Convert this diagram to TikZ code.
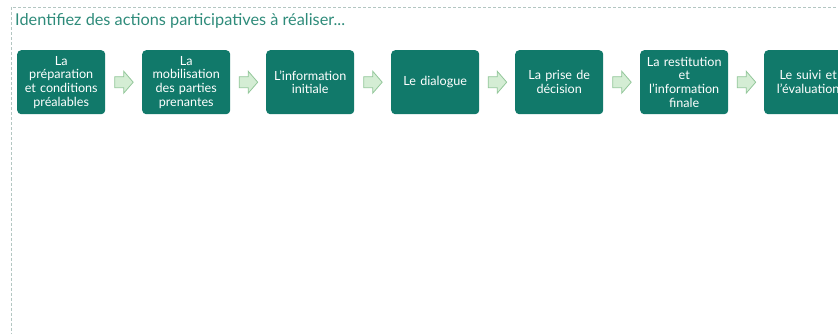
\documentclass[tikz,border=0pt]{standalone}
\usepackage{fontspec}
\setmainfont{Lato}
\usetikzlibrary{calc}
\definecolor{boxgreen}{HTML}{11796A}
\definecolor{titlegreen}{HTML}{2E8B7A}
\definecolor{arrowfill}{HTML}{D4EDD4}
\definecolor{arrowdraw}{HTML}{93C79A}
\definecolor{dashgray}{HTML}{B3C6C2}
\tikzset{
  stepbox/.style={fill=boxgreen, rounded corners=4pt, minimum width=88pt, minimum height=64pt,
    text width=86pt, align=center, text=white, font=\fontsize{12.6}{13.6}\selectfont, inner sep=0pt, anchor=north west},
  blockarrow/.style={fill=arrowfill, draw=arrowdraw, line width=0.8pt, line join=miter}
}
\begin{document}
\begin{tikzpicture}[x=1pt,y=1pt]
\useasboundingbox (0,0) rectangle (838,-334);
\clip (0,0) rectangle (838,-334);
\draw[dashgray, dash pattern=on 3pt off 2pt, line width=1pt] (11.5,-7.5) rectangle (860,-336);
\node[anchor=base west, text=titlegreen, font=\fontsize{16.3}{18}\selectfont, inner sep=0pt] (title) at (15,-25.5) {Identifiez des actions participatives à réaliser...};
\node[stepbox] (b1) at (17,-50) {La\\ préparation\\ et conditions\\ préalables};
\node[stepbox] (b2) at (142,-50) {La\\ mobilisation\\ des parties\\ prenantes};
\node[stepbox] (b3) at (266,-50) {L'information\\ initiale};
\node[stepbox] (b4) at (391,-50) {Le dialogue};
\node[stepbox] (b5) at (515,-50) {La prise de\\ décision};
\node[stepbox] (b6) at (640,-50) {La restitution\\ et\\ l'information\\ finale};
\node[stepbox] (b7) at (764,-50) {Le suivi et\\ l'évaluation};
\foreach \a/\b in {b1/b2,b2/b3,b3/b4,b4/b5,b5/b6,b6/b7}{
  \coordinate (m\a) at ($(\a.east)!0.5!(\b.west)$);
  \draw[blockarrow] ([shift={(-9,5.5)}]m\a) -- ([shift={(0,5.5)}]m\a) -- ([shift={(0,11)}]m\a)
    -- ([shift={(9.5,0)}]m\a) -- ([shift={(0,-11)}]m\a) -- ([shift={(0,-5.5)}]m\a)
    -- ([shift={(-9,-5.5)}]m\a) -- cycle;
}
\end{tikzpicture}
\end{document}
